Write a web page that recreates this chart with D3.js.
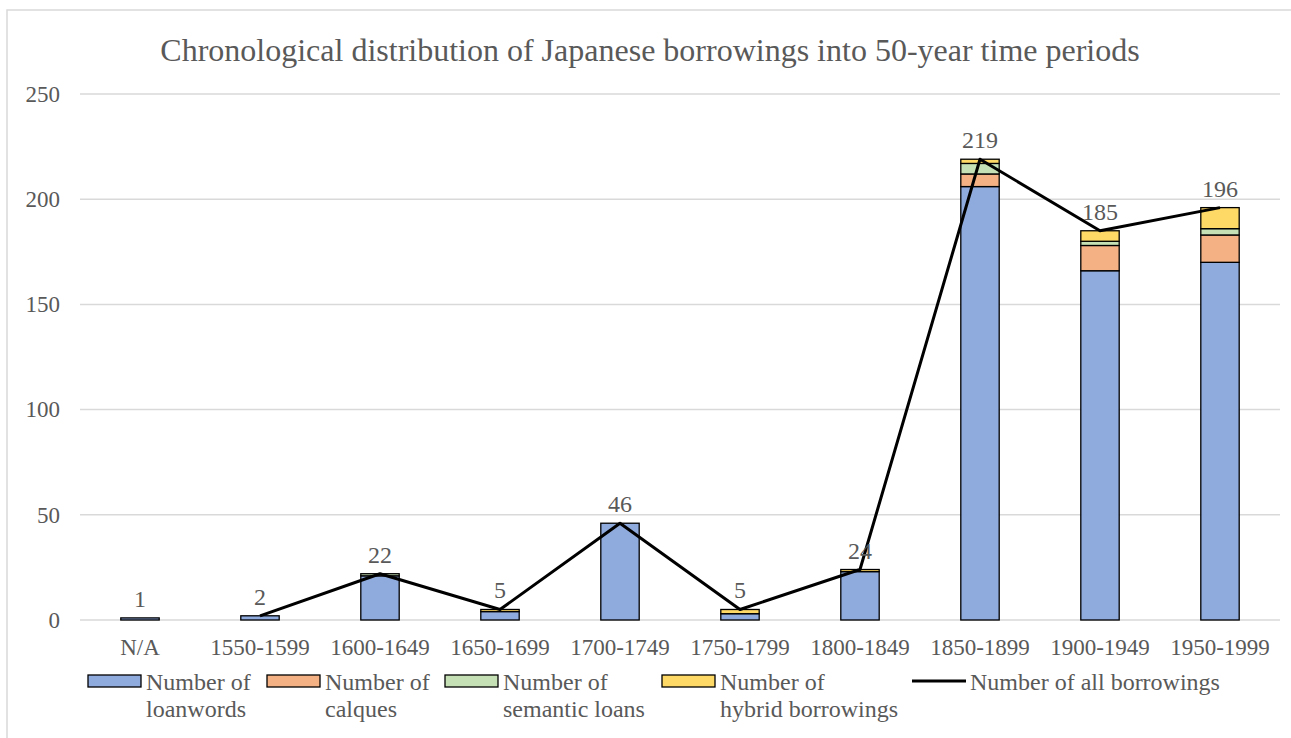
<!DOCTYPE html>
<html>
<head>
<meta charset="utf-8">
<script src="https://cdn.jsdelivr.net/npm/d3@7/dist/d3.min.js"></script>
<style>
  html, body { margin: 0; padding: 0; background: #fff; }
  svg { display: block; }
  text { font-family: "Liberation Serif", "Times New Roman", serif; fill: #595959; }
</style>
</head>
<body>
<svg id="chart" width="1291" height="738"></svg>
<script>
// Time periods (categories)
const periods = ["N/A", "1550-1599", "1600-1649", "1650-1699", "1700-1749",
                 "1750-1799", "1800-1849", "1850-1899", "1900-1949", "1950-1999"];

// Borrowing counts per period, by type
const loanwords     = [1, 2, 21, 4, 46, 3, 23, 206, 166, 170];
const calques       = [0, 0, 0, 0, 0, 0, 0, 6, 12, 13];
const semanticLoans = [0, 0, 1, 0, 0, 0, 0, 5, 2, 3];
const hybrids       = [0, 0, 0, 1, 0, 2, 1, 2, 5, 10];

// Totals for the line series (N/A is not joined to the line)
const allBorrowings = [1, 2, 22, 5, 46, 5, 24, 219, 185, 196];
const lineFromIndex = 1;

const yTicks = [0, 50, 100, 150, 200, 250];

const seriesNames = ["Number of\nloanwords", "Number of\ncalques",
                     "Number of\nsemantic loans", "Number of\nhybrid borrowings"];
const seriesColors = ["#8faadc", "#f4b183", "#c5e0b4", "#ffd966"];
const lineName = "Number of all borrowings";

const svg = d3.select("#chart");
const W = 1291, H = 738;
const plot = { left: 80, right: 1280, top: 94, bottom: 620 };

// Chart frame
svg.append("rect")
  .attr("x", 7).attr("y", 10)
  .attr("width", W + 10).attr("height", H + 10)
  .attr("fill", "#fff").attr("stroke", "#d9d9d9").attr("stroke-width", 1.5);

// Title
svg.append("text")
  .attr("x", 650).attr("y", 61)
  .attr("text-anchor", "middle")
  .attr("font-size", 32)
  .text("Chronological distribution of Japanese borrowings into 50-year time periods");

const x = d3.scaleBand().domain(periods).range([plot.left, plot.right]).paddingInner(0.68).paddingOuter(0.34);
const y = d3.scaleLinear().domain([0, 250]).range([plot.bottom, plot.top]);

// Gridlines
svg.append("g")
  .selectAll("line")
  .data(yTicks)
  .join("line")
  .attr("x1", plot.left).attr("x2", plot.right)
  .attr("y1", d => y(d)).attr("y2", d => y(d))
  .attr("stroke", "#d9d9d9").attr("stroke-width", 1.5);

// Y axis labels
const yAxis = d3.axisLeft(y).tickValues(yTicks).tickSize(0).tickPadding(0);
const yG = svg.append("g").attr("transform", `translate(${plot.left - 20},0)`).call(yAxis);
yG.select(".domain").remove();
yG.selectAll("text").attr("font-size", 23);

// X axis labels
const xAxis = d3.axisBottom(x).tickSize(0).tickPadding(0);
const xG = svg.append("g").attr("transform", `translate(0,${plot.bottom + 19})`).call(xAxis);
xG.select(".domain").remove();
xG.selectAll("text").attr("font-size", 23);

// Stacked bars
const rows = periods.map((p, i) => ({
  period: p,
  loanwords: loanwords[i],
  calques: calques[i],
  semantic: semanticLoans[i],
  hybrid: hybrids[i]
}));
const keys = ["loanwords", "calques", "semantic", "hybrid"];
const stacked = d3.stack().keys(keys)(rows);

svg.append("g")
  .selectAll("g")
  .data(stacked)
  .join("g")
  .attr("fill", (d, i) => seriesColors[i])
  .selectAll("rect")
  .data(d => d.filter(s => s[1] - s[0] > 0))
  .join("rect")
  .attr("x", d => x(d.data.period))
  .attr("width", x.bandwidth())
  .attr("y", d => y(d[1]))
  .attr("height", d => y(d[0]) - y(d[1]))
  .attr("stroke", "#000").attr("stroke-width", 1.3);

// Line of totals
const cx = p => x(p) + x.bandwidth() / 2;
const linePts = periods.map((p, i) => ({ p, v: allBorrowings[i], i })).filter(d => d.i >= lineFromIndex);
svg.append("path")
  .datum(linePts)
  .attr("fill", "none")
  .attr("stroke", "#000")
  .attr("stroke-width", 3)
  .attr("stroke-linejoin", "round")
  .attr("d", d3.line().x(d => cx(d.p)).y(d => y(d.v)));

// Total labels
svg.append("g")
  .selectAll("text")
  .data(periods.map((p, i) => ({ p, v: allBorrowings[i] })))
  .join("text")
  .attr("x", d => cx(d.p))
  .attr("y", d => y(d.v) - 11)
  .attr("text-anchor", "middle")
  .attr("font-size", 24)
  .text(d => d.v);

// Legend
const legend = svg.append("g");
const swatchX = [88, 267, 445, 662];
seriesNames.forEach((name, i) => {
  legend.append("rect")
    .attr("x", swatchX[i]).attr("y", 675)
    .attr("width", 53).attr("height", 12)
    .attr("fill", seriesColors[i]).attr("stroke", "#000").attr("stroke-width", 1.3);
  const t = legend.append("text").attr("x", swatchX[i] + 58).attr("y", 690).attr("font-size", 24);
  name.split("\n").forEach((line, j) => {
    t.append("tspan").attr("x", swatchX[i] + 58).attr("dy", j === 0 ? 0 : 27).text(line);
  });
});
legend.append("line")
  .attr("x1", 912).attr("x2", 966).attr("y1", 681).attr("y2", 681)
  .attr("stroke", "#000").attr("stroke-width", 3);
legend.append("text").attr("x", 970).attr("y", 690).attr("font-size", 24).text(lineName);
</script>
</body>
</html>
